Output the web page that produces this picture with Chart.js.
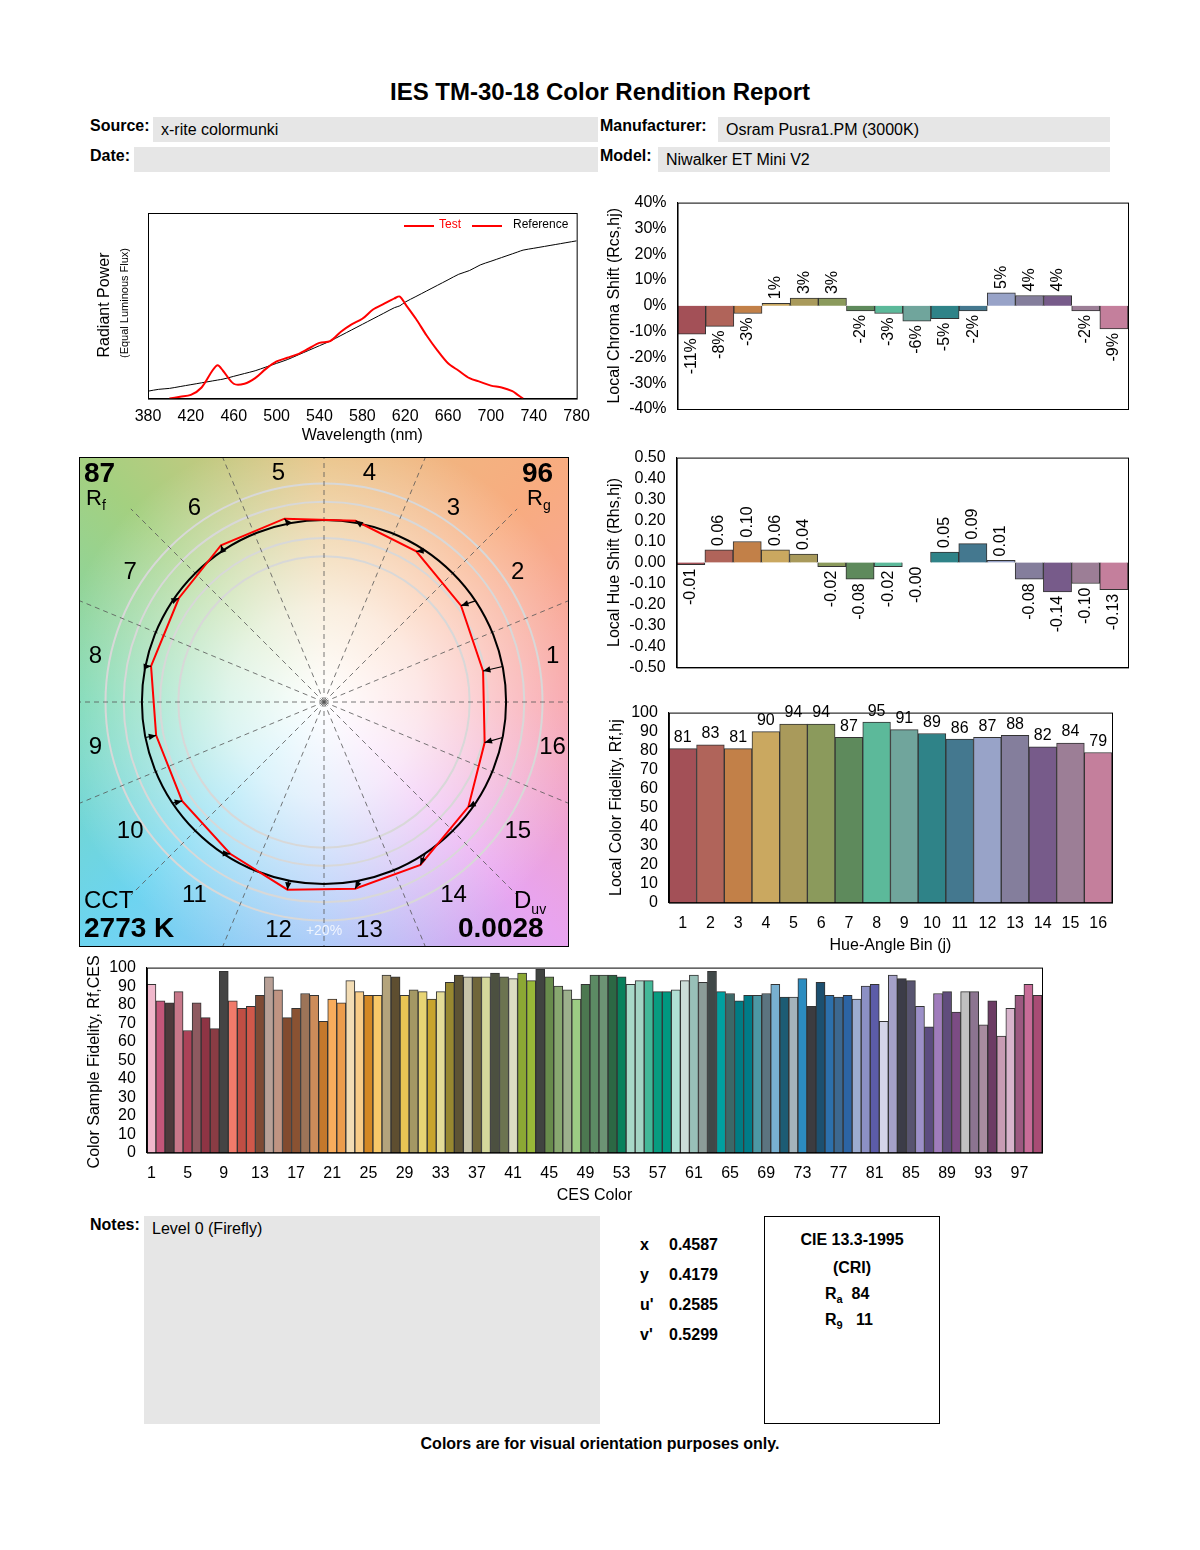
<!DOCTYPE html>
<html><head><meta charset="utf-8">
<script src="https://cdn.jsdelivr.net/npm/chart.js@4"></script>
<style>
body{margin:0;background:#fff;font-family:"Liberation Sans",Arial,sans-serif;color:#000}
#page{position:relative;width:1200px;height:1550px}
.a{position:absolute}
.b{font-weight:bold;font-size:16px}
.box{position:absolute;background:#e6e6e6;font-size:16px;padding-left:8px;box-sizing:border-box;line-height:25px}
canvas{position:absolute}
</style></head><body>
<div id="page">
<div class="a" style="left:0;width:1200px;top:78px;text-align:center;font-size:24px;font-weight:bold">IES TM-30-18 Color Rendition Report</div>
<div class="a b" style="left:90px;top:117px">Source:</div>
<div class="box" style="left:153px;top:117px;width:445px;height:25px">x-rite colormunki</div>
<div class="a b" style="left:90px;top:147px">Date:</div>
<div class="box" style="left:134px;top:147px;width:464px;height:25px"></div>
<div class="a b" style="left:600px;top:117px">Manufacturer:</div>
<div class="box" style="left:718px;top:117px;width:392px;height:25px">Osram Pusra1.PM (3000K)</div>
<div class="a b" style="left:600px;top:147px">Model:</div>
<div class="box" style="left:658px;top:147px;width:452px;height:25px">Niwalker ET Mini V2</div>

<canvas id="spec" width="505" height="250" style="left:85px;top:195px"></canvas>
<div class="a" style="left:104px;top:296px;width:200px;margin-left:-100px;text-align:center;transform:rotate(-90deg);font-size:16px">Radiant Power</div>
<div class="a" style="left:124px;top:297px;width:200px;margin-left:-100px;text-align:center;transform:rotate(-90deg);font-size:11px">(Equal Luminous Flux)</div>
<div class="a" style="left:404px;top:225px;width:30px;border-top:2px solid red"></div>
<div class="a" style="left:439px;top:217px;font-size:12px;color:red">Test</div>
<div class="a" style="left:472px;top:225px;width:30px;border-top:2px solid red"></div>
<div class="a" style="left:513px;top:217px;font-size:12px">Reference</div>

<canvas id="chroma" width="545" height="235" style="left:595px;top:190px"></canvas>
<canvas id="hue" width="545" height="235" style="left:595px;top:445px"></canvas>
<canvas id="fid" width="530" height="255" style="left:595px;top:700px"></canvas>

<canvas id="vec" width="488" height="488" style="left:80px;top:458px;border:1px solid #000;box-sizing:content-box;margin:-1px"></canvas>
<div class="a" style="left:84px;top:457px;font-size:28px;font-weight:bold">87</div>
<div class="a" style="left:86px;top:485px;font-size:22px">R<sub style="font-size:14px">f</sub></div>
<div class="a" style="left:522px;top:457px;font-size:28px;font-weight:bold">96</div>
<div class="a" style="left:527px;top:485px;font-size:22px">R<sub style="font-size:14px">g</sub></div>
<div class="a" style="left:84px;top:886px;font-size:24px">CCT</div>
<div class="a" style="left:84px;top:912px;font-size:28px;font-weight:bold">2773 K</div>
<div class="a" style="left:514px;top:886px;font-size:24px">D<sub style="font-size:14px">uv</sub></div>
<div class="a" style="left:458px;top:912px;font-size:28px;font-weight:bold">0.0028</div>

<canvas id="ces" width="975" height="250" style="left:78px;top:955px"></canvas>

<div class="a b" style="left:90px;top:1216px">Notes:</div>
<div class="box" style="left:144px;top:1216px;width:456px;height:208px">Level 0 (Firefly)</div>
<div class="a" style="left:640px;top:1230px;font-size:16px;font-weight:bold;line-height:30px">x<br>y<br>u'<br>v'</div>
<div class="a" style="left:669px;top:1230px;font-size:16px;font-weight:bold;line-height:30px">0.4587<br>0.4179<br>0.2585<br>0.5299</div>
<div class="a" style="left:764px;top:1216px;width:176px;height:208px;border:1px solid #000;box-sizing:border-box;font-size:16px;font-weight:bold">
 <div style="text-align:center;margin-top:14px">CIE 13.3-1995</div>
 <div style="text-align:center;margin-top:10px">(CRI)</div>
 <div style="margin:8px 0 0 60px">R<sub style="font-size:11px">a</sub>&nbsp;&nbsp;84</div>
 <div style="margin:6px 0 0 60px">R<sub style="font-size:11px">9</sub>&nbsp;&nbsp;&nbsp;11</div>
</div>
<div class="a" style="left:0;width:1200px;top:1435px;text-align:center;font-size:16px;font-weight:bold">Colors are for visual orientation purposes only.</div>
</div>
<script>
const FONT = '"Liberation Sans", Arial, sans-serif';
Chart.defaults.font.family = FONT;
Chart.defaults.color = '#000';

// spectrum (relative radiant power)
const wavelengths = [380,390,400,410,420,430,440,445,450,460,470,480,490,500,510,520,530,540,550,560,570,580,590,600,610,615,620,630,640,650,660,670,680,690,700,710,720,725,730,740,760,780];
const testPower =   [null,null,0,0.01,0.02,0.06,0.15,0.18,0.15,0.08,0.08,0.11,0.16,0.2,0.22,0.24,0.27,0.3,0.31,0.36,0.4,0.43,0.48,0.51,0.54,0.55,0.51,0.43,0.34,0.26,0.19,0.15,0.11,0.09,0.07,0.06,0.04,0.02,0,null,null,null];
const refPower =    [0.04,0.05,0.055,0.065,0.075,0.085,0.095,0.1,0.105,0.12,0.135,0.15,0.17,0.19,0.21,0.235,0.26,0.285,0.31,0.34,0.37,0.4,0.43,0.46,0.49,0.5,0.52,0.55,0.58,0.61,0.64,0.67,0.69,0.72,0.74,0.76,0.78,0.79,0.8,0.81,0.83,0.85];

// hue-angle bins
const bins = ['1','2','3','4','5','6','7','8','9','10','11','12','13','14','15','16'];
const binColors = ['#a35057','#b0645a','#c28048','#caa860','#a99a5b','#8b9a5c','#5e8a5c','#5cb99a','#70a59c','#2f8388','#44788f','#98a3c8','#847e9c','#775b8a','#9c7e96','#c47f9c'];
const chromaShift = [-11,-8,-3,1,3,3,-2,-3,-6,-5,-2,5,4,4,-2,-9];
const hueShift = [-0.01,0.06,0.10,0.06,0.04,-0.02,-0.08,-0.02,-0.00,0.05,0.09,0.01,-0.08,-0.14,-0.10,-0.13];
const localFidelity = [81,83,81,90,94,94,87,95,91,89,86,87,88,82,84,79];

// CES samples
const cesValues = [91,82,81,87,66,81,73,67,98,82,78,79,85,95,88,73,78,86,85,71,83,81,93,87,85,85,96,95,85,88,87,83,87,92,96,95,95,95,97,95,94,97,93,99,95,90,88,83,91,96,
96,96,95,91,93,93,87,87,88,93,96,92,98,87,86,82,85,85,86,91,84,84,94,79,92,85,84,85,83,90,91,71,96,94,93,79,68,86,87,76,87,87,69,82,63,78,85,91,85];
const cesColors = ['#f0b8cc','#c4567a','#4e3a3c','#c8788a','#ac4258','#8e5a60','#8e3444','#8a3c44','#444444','#f07a6a','#c04e44','#d0584a','#7e4a34','#b8a096','#c09482','#824a2e','#8a5232','#9c7458','#cc8c5a','#c4782c','#f8ac5c','#ec9c4c','#f2dcb4','#f8cc88','#d48824','#f8c868','#b4a47c','#5e4e30','#e8c454','#a49864','#e8d474','#c8a42c','#e4dc98','#988830','#5e5434','#c8c4a8','#70663a','#d4d89c','#4c5040','#6c7450','#dcdcc4','#8ca834','#98b838','#404440','#688c4c','#88a870','#9cb08c','#9ccc84','#4c7850','#5c8a64',
'#6c9474','#2c6844','#08805c','#a8d8c8','#a4d4c4','#44b898','#089c80','#009880','#b0e0d4','#ccdcd8','#98c0b8','#8c9c98','#404848','#00a0a0','#3c6868','#007c84','#007c88','#4c98a4','#5c7480','#78b0d0','#1c5c74','#a4b4bc','#2c8cc0','#3c3c40','#1c5070','#2c70ac','#3c6890','#2c64a4','#9cacd0','#8c90c4','#5c5ca8','#d4d4e8','#a4a0c8','#3c3c48','#585470','#9c90c8','#5c4c80','#a07cbc','#604c7c','#7c4c84','#c0c0c0','#8c7490','#a88ca0','#6c3c64','#c89cb4','#d8b4cc','#9c5880','#c86c98','#a84c74'];
const cesLabels = cesValues.map((v, i) => String(i + 1));

// frame around plot area
const framePlugin = {
  id: 'frame',
  afterDraw(chart, args, opts) {
    if (!opts.on) return;
    const a = chart.chartArea, c = chart.ctx;
    c.save(); c.strokeStyle = '#000'; c.lineWidth = 1;
    c.strokeRect(a.left + 0.5, a.top + 0.5, a.right - a.left, a.bottom - a.top);
    c.restore();
  }
};
// value labels on bars
const labelPlugin = {
  id: 'vlabels',
  afterDatasetsDraw(chart, args, opts) {
    if (!opts.mode) return;
    const c = chart.ctx, ds = chart.data.datasets[0], meta = chart.getDatasetMeta(0);
    c.save(); c.fillStyle = '#000'; c.font = '16px ' + FONT;
    meta.data.forEach((bar, i) => {
      const v = ds.data[i];
      if (opts.mode === 'top') {
        c.textAlign = 'center'; c.textBaseline = 'bottom';
        c.fillText(String(v), bar.x, bar.y - 3);
      } else {
        c.save(); c.translate(bar.x, v > 0 ? bar.y - 4 : Math.max(bar.y, bar.base) + 4);
        c.rotate(-Math.PI / 2); c.textBaseline = 'middle';
        c.textAlign = v > 0 ? 'left' : 'right';
        c.fillText(opts.fmt(v), 0, 0); c.restore();
      }
    });
    c.restore();
  }
};
Chart.register(framePlugin, labelPlugin);

function barChart(id, labels, data, colors, yOpts, title, extra) {
  const xTicks = { display: extra.xticks !== false, font: { size: 16 }, autoSkip: false, maxRotation: 0 };
  if (extra.xcb) xTicks.callback = extra.xcb;
  yOpts.ticks.autoSkip = false;
  return new Chart(document.getElementById(id), {
    type: 'bar',
    data: { labels: labels, datasets: [{ data: data, backgroundColor: colors, borderColor: '#333', borderWidth: 1, categoryPercentage: 1, barPercentage: 1 }] },
    options: {
      responsive: false, animation: false, devicePixelRatio: 1,
      layout: { padding: extra.padding },
      plugins: { legend: { display: false }, tooltip: { enabled: false }, frame: { on: true }, vlabels: extra.labels || {} },
      scales: {
        x: Object.assign({ grid: { display: false }, border: { color: '#000' }, ticks: xTicks }, extra.xtitle ? { title: { display: true, text: extra.xtitle, font: { size: 16 }, padding: 0 } } : {}),
        y: Object.assign({ grid: { display: false }, border: { color: '#000' }, title: { display: true, text: title, font: { size: 16 }, padding: 2 } }, yOpts)
      }
    }
  });
}

barChart('chroma', bins, chromaShift, binColors,
  { min: -40, max: 40, ticks: { stepSize: 10, font: { size: 16 }, callback: v => v + '%' } },
  'Local Chroma Shift (Rcs,hj)',
  { padding: { left: 8, right: 12, top: 5, bottom: 8 }, xticks: false, labels: { mode: 'rot', fmt: v => v + '%' } });

barChart('hue', bins, hueShift, binColors,
  { min: -0.5, max: 0.5, ticks: { stepSize: 0.1, font: { size: 16 }, callback: v => v.toFixed(2) } },
  'Local Hue Shift (Rhs,hj)',
  { padding: { left: 8, right: 12, top: 5, bottom: 0 }, xticks: false, labels: { mode: 'rot', fmt: v => (v === 0 ? '-0.00' : v.toFixed(2)) } });

barChart('fid', bins, localFidelity, binColors,
  { min: 0, max: 100, ticks: { stepSize: 10, font: { size: 16 } } },
  'Local Color Fidelity, Rf,hj',
  { padding: { left: 10, right: 13, top: 12, bottom: 0 }, xtitle: 'Hue-Angle Bin (j)', labels: { mode: 'top' } });

barChart('ces', cesLabels, cesValues, cesColors,
  { min: 0, max: 100, ticks: { stepSize: 10, font: { size: 16 } } },
  'Color Sample Fidelity, Rf,CESi',
  { padding: { left: 5, right: 11, top: 10, bottom: 0 }, xtitle: 'CES Color', xcb: (v, i) => (i % 4 === 0 ? cesLabels[i] : '') });

// spectrum
new Chart(document.getElementById('spec'), {
  type: 'line',
  data: { labels: wavelengths, datasets: [
    { data: testPower, borderColor: 'red', borderWidth: 2, pointRadius: 0, tension: 0.3, spanGaps: false },
    { data: refPower, borderColor: '#000', borderWidth: 1, pointRadius: 0, tension: 0.3 }
  ] },
  options: {
    responsive: false, animation: false, devicePixelRatio: 1,
    layout: { padding: { left: 55, right: 12, top: 18, bottom: 0 } },
    plugins: { legend: { display: false }, tooltip: { enabled: false }, frame: { on: true } },
    scales: {
      x: { type: 'linear', min: 380, max: 780, grid: { display: false }, border: { color: '#000' },
           ticks: { stepSize: 40, font: { size: 16 }, padding: 0 }, title: { display: true, text: 'Wavelength (nm)', font: { size: 16 }, padding: 0 } },
      y: { min: 0, max: 1, grid: { display: false }, border: { color: '#000' }, ticks: { display: false } }
    }
  }
});

// color vector graphic
const rings = [0.8, 0.9, 1.1, 1.2];
const toXY = (r, deg) => ({ x: r * Math.cos(deg * Math.PI / 180), y: r * Math.sin(deg * Math.PI / 180) });
const refPts = bins.map((b, j) => toXY(1, (j + 0.5) * 22.5));
const testPts = bins.map((b, j) => toXY(1 + chromaShift[j] / 100, (j + 0.5 + hueShift[j]) * 22.5));
new Chart(document.getElementById('vec'), {
  type: 'scatter',
  data: { datasets: [
    { data: testPts.concat([testPts[0]]), showLine: true, borderColor: 'red', borderWidth: 2, pointRadius: 0 }
  ] },
  options: {
    responsive: false, animation: false, devicePixelRatio: 1,
    layout: { padding: 0 },
    plugins: { legend: { display: false }, tooltip: { enabled: false } },
    scales: { x: { display: false, min: -1.34, max: 1.34 }, y: { display: false, min: -1.34, max: 1.34 } }
  },
  plugins: [{
    id: 'bg',
    beforeDatasetsDraw(ch) {
      const c = ch.ctx, sx = ch.scales.x, sy = ch.scales.y;
      const cx = sx.getPixelForValue(0), cy = sy.getPixelForValue(0), R = sx.getPixelForValue(1) - cx;
      c.save();
      const g = c.createConicGradient(0, cx, cy);
      const stops = [[0,'#f8a0a8'],[45,'#f8ac80'],[90,'#e8c080'],[135,'#a4d080'],[180,'#78d8b4'],[225,'#6cd4f0'],[270,'#a4c4f8'],[315,'#e8a4f0'],[360,'#f8a0a8']];
      stops.forEach(s => g.addColorStop(1 - s[0] / 360, s[1]));
      c.fillStyle = g; c.fillRect(0, 0, ch.width, ch.height);
      const rg = c.createRadialGradient(cx, cy, 0, cx, cy, R * 1.5);
      rg.addColorStop(0, 'rgba(255,255,255,1)'); rg.addColorStop(0.35, 'rgba(255,255,255,0.75)'); rg.addColorStop(1, 'rgba(255,255,255,0)');
      c.fillStyle = rg; c.fillRect(0, 0, ch.width, ch.height);
      c.strokeStyle = '#d8d8d8'; c.lineWidth = 2;
      rings.forEach(r => { c.beginPath(); c.arc(cx, cy, R * r, 0, 2 * Math.PI); c.stroke(); });
      c.strokeStyle = '#555'; c.lineWidth = 0.8; c.setLineDash([5, 4]);
      for (let k = 0; k < 16; k++) {
        const p = toXY(1.5, k * 22.5);
        c.beginPath(); c.moveTo(cx, cy); c.lineTo(sx.getPixelForValue(p.x), sy.getPixelForValue(p.y)); c.stroke();
      }
      c.setLineDash([]);
      c.strokeStyle = '#000'; c.lineWidth = 2;
      c.beginPath(); c.arc(cx, cy, R, 0, 2 * Math.PI); c.stroke();
      c.font = '24px ' + FONT; c.fillStyle = '#000'; c.textAlign = 'center'; c.textBaseline = 'middle';
      bins.forEach((b, j) => { const p = toXY(1.28, (j + 0.5) * 22.5); c.fillText(b, sx.getPixelForValue(p.x), sy.getPixelForValue(p.y)); });
      c.font = '14px ' + FONT; c.fillStyle = 'rgba(255,255,255,0.8)';
      c.fillText('+20%', cx, sy.getPixelForValue(-1.26));
      c.restore();
    },
    afterDatasetsDraw(ch) {
      const c = ch.ctx, sx = ch.scales.x, sy = ch.scales.y;
      c.save(); c.strokeStyle = '#000'; c.fillStyle = '#000'; c.lineWidth = 1.2;
      refPts.forEach((p, j) => {
        const x0 = sx.getPixelForValue(p.x), y0 = sy.getPixelForValue(p.y);
        const x1 = sx.getPixelForValue(testPts[j].x), y1 = sy.getPixelForValue(testPts[j].y);
        c.beginPath(); c.moveTo(x0, y0); c.lineTo(x1, y1); c.stroke();
        const a = Math.atan2(y1 - y0, x1 - x0);
        c.beginPath(); c.moveTo(x1, y1);
        c.lineTo(x1 - 8 * Math.cos(a - 0.4), y1 - 8 * Math.sin(a - 0.4));
        c.lineTo(x1 - 8 * Math.cos(a + 0.4), y1 - 8 * Math.sin(a + 0.4)); c.closePath(); c.fill();
      });
      c.restore();
    }
  }]
});
</script>
</body></html>
